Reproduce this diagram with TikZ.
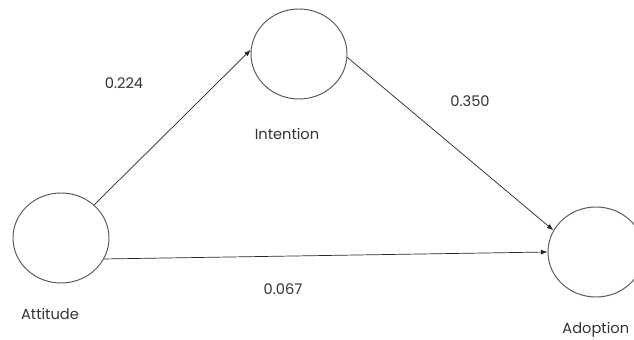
\documentclass[tikz,border=0pt]{standalone}
\usepackage{fontspec}
\setmainfont{Poppins}
\usetikzlibrary{positioning, arrows.meta, shapes.geometric}
\definecolor{RingGray}{HTML}{555555}
\definecolor{TextGray}{HTML}{333333}

\tikzset{
  construct/.style={ellipse, draw=RingGray, thick, minimum width=2.88cm, minimum height=2.7cm, inner sep=0pt},
  tag/.style={font=\fontsize{12.5}{14}\selectfont, text=TextGray, inner sep=1pt},
  path/.style={-{Latex[length=2mm]}, semithick, black!85}
}

\begin{document}
\begin{tikzpicture}[x=0.03cm, y=-0.03cm]
  % Rahmen
  \clip (0,0) rectangle (634,340);

  % Konstrukte
  \node[construct] (att) at (61,238) {};
  \node[construct] (int) at (299,54) {};
  \node[construct] (adp) at (596,252) {};

  % Beschriftungen
  \node[tag] (attlbl) at (50,314) {Attitude};
  \node[tag] (intlbl) at (287,134) {Intention};
  \node[tag, anchor=west] (adplbl) at (561,330) {Adoption};

  % Pfade
  \draw[path] (att.45) -- (int.175);
  \draw[path] (int.-4) -- (adp.153);
  \draw[path] (att.-26) -- (adp.west);

  % Koeffizienten
  \node[tag] (c1) at (124,83) {0.224};
  \node[tag] (c2) at (470,101) {0.350};
  \node[tag] (c3) at (283,289) {0.067};
\end{tikzpicture}
\end{document}
